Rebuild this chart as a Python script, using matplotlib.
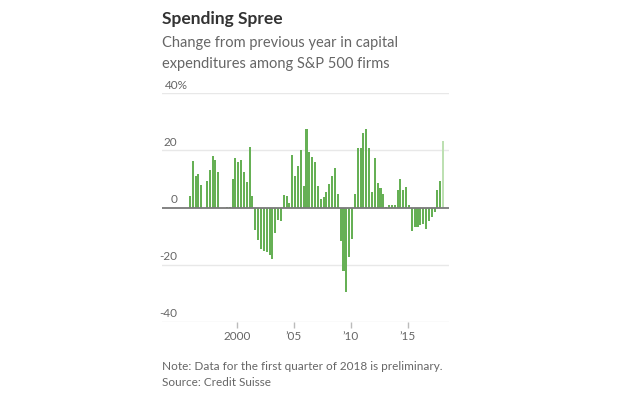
import matplotlib
matplotlib.use("Agg")
import matplotlib.pyplot as plt
import numpy as np

# Quarterly data, 1995Q4 .. 2018Q1 (last value preliminary)
start_year, start_q = 1995, 4
values = [
    4.0, 16.4, 10.9, 11.9, 7.8, 0.0, 9.2, 13.0, 18.2, 16.6, 12.6, -0.3,
    -0.3, 0.2, 0.3, 10.0, 17.3, 16.0, 16.5, 12.6, 9.0, 21.3, 4.2, -8.0,
    -11.3, -14.4, -15.2, -15.7, -16.8, -18.1, -8.8, -4.4, -4.7, 4.4, 4.2, 1.5,
    18.4, 11.2, 14.4, 20.1, 7.4, 27.5, 19.5, 17.7, 16.0, 7.6, 3.0, 3.6,
    5.6, 8.2, 11.2, 13.8, 4.9, -11.8, -22.2, -29.5, -17.2, -11.1, 4.6, 20.9,
    20.9, 26.1, 27.4, 20.9, 5.3, 17.3, 8.5, 6.7, 4.9, 0.2, 0.9, 0.9,
    0.9, 6.0, 9.9, 6.3, 7.1, 0.9, -8.4, -7.0, -6.8, -6.0, -5.8, -7.5,
    -4.6, -3.2, -1.5, 6.3, 9.4, 23.2,
]
preliminary_last = True

y_ticks = [-40, -20, 0, 20, 40]
y_labels = ["-40", "-20", "0", "20", "40%"]
x_ticks = [2000, 2005, 2010, 2015]
x_labels = ["2000", "\u201905", "\u201910", "\u201915"]

title = "Spending Spree"
subtitle = ["Change from previous year in capital", "expenditures among S&P 500 firms"]
notes = ["Note: Data for the first quarter of 2018 is preliminary.", "Source: Credit Suisse"]

plt.rcParams['font.family'] = ['Lato', 'DejaVu Sans']

W, H = 620, 397
fig = plt.figure(figsize=(W / 100, H / 100), dpi=100)
fig.patch.set_facecolor('white')

ax_left, ax_right = 161.7, 448.5
ax_top, ax_bot = 93.3, 321.7
ax = fig.add_axes([ax_left / W, 1 - ax_bot / H, (ax_right - ax_left) / W, (ax_bot - ax_top) / H])

n = len(values)
qidx = np.arange(n) + (start_q - 1)
xpos = start_year + qidx // 4 + (qidx % 4 + 0.5) / 4.0
colors = ['#66b055'] * n
if preliminary_last:
    colors[-1] = '#bde0b2'
ax.bar(xpos, values, width=0.18, color=colors, edgecolor='none', zorder=3)

ax.set_xlim(1993.4, 2018.6)
ax.set_ylim(-40, 40)

for t in y_ticks:
    if t == 0:
        ax.axhline(0, color='#7a7a7a', lw=1.3, zorder=4)
    else:
        ax.axhline(t, color='#e8e8e8', lw=1.0, zorder=1)

ax.set_yticks([])
ax.set_xticks(x_ticks)
ax.set_xticklabels(x_labels)
ax.tick_params(axis='x', length=4, width=1, color='#bbbbbb', labelcolor='#666666',
               labelsize=8.5, pad=3)
for s in ax.spines.values():
    s.set_visible(False)

# y labels above the gridlines, numbers right-aligned
for t, lab in zip(y_ticks, y_labels):
    if lab.endswith('%'):
        ax.annotate(lab, xy=(0, t), xycoords=('axes fraction', 'data'),
                    xytext=(2.6, 2), textcoords='offset points',
                    ha='left', va='bottom', fontsize=8.5, color='#666666')
    else:
        ax.annotate(lab, xy=(0, t), xycoords=('axes fraction', 'data'),
                    xytext=(11.2, 2), textcoords='offset points',
                    ha='right', va='bottom', fontsize=8.5, color='#666666')

x0 = 162 / W
fig.text(x0, 1 - 24 / H, title, fontsize=12.5, fontweight='bold', color='#333333', va='baseline')
fig.text(x0, 1 - 46.5 / H, subtitle[0], fontsize=10.5, color='#666666', va='baseline')
fig.text(x0, 1 - 68 / H, subtitle[1], fontsize=10.5, color='#666666', va='baseline')
fig.text(x0, 1 - 370 / H, notes[0], fontsize=8.5, color='#666666', va='baseline')
fig.text(x0, 1 - 386 / H, notes[1], fontsize=8.5, color='#666666', va='baseline')

fig.savefig('out.png', dpi=100, facecolor='white')
